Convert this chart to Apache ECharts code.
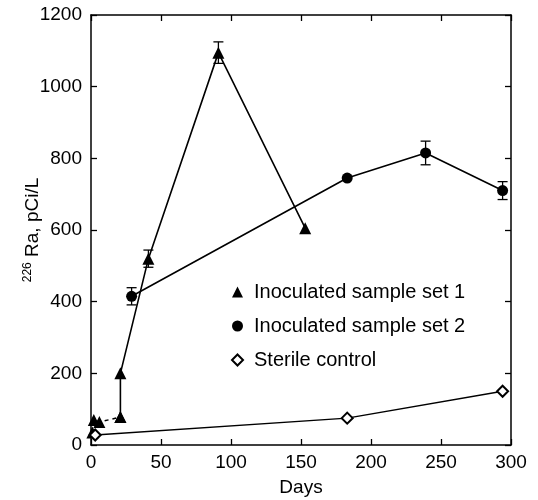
<!DOCTYPE html>
<html><head><meta charset="utf-8">
<script src="https://cdn.jsdelivr.net/npm/echarts@6/dist/echarts.min.js"></script>
<style>html,body{margin:0;padding:0;background:#fff}#c{width:538px;height:500px}</style>
</head><body><div id="c"></div>
<script>
// Data
const xTicks = [0, 50, 100, 150, 200, 250, 300];
const yTicks = [0, 200, 400, 600, 800, 1000, 1200];

const set1Days = [1, 2, 6, 21, 21, 41, 91, 153];
const set1Ra   = [35, 70, 64, 78, 200, 520, 1095, 605];
const set1Err  = [0, 0, 0, 0, 0, 24, 30, 0];

const set2Days = [29, 183, 239, 294];
const set2Ra   = [415, 745, 815, 710];
const set2Err  = [24, 0, 33, 25];

const ctrlDays = [3, 183, 294];
const ctrlRa   = [28, 75, 150];

const names = ['Inoculated sample set 1', 'Inoculated sample set 2', 'Sterile control'];

const pts = (xs, ys) => xs.map((x, i) => [x, ys[i]]);
const errPts = (xs, ys, es) => xs.map((x, i) => [x, ys[i], es[i]]).filter(d => d[2] > 0);

function errRender(params, api) {
  const x = api.value(0), y = api.value(1), e = api.value(2);
  const hi = api.coord([x, y + e]);
  const lo = api.coord([x, y - e]);
  const w = 5;
  const st = { stroke: '#000', lineWidth: 1.3 };
  return { type: 'group', children: [
    { type: 'line', shape: { x1: hi[0], y1: hi[1], x2: lo[0], y2: lo[1] }, style: st },
    { type: 'line', shape: { x1: hi[0] - w, y1: hi[1], x2: hi[0] + w, y2: hi[1] }, style: st },
    { type: 'line', shape: { x1: lo[0] - w, y1: lo[1], x2: lo[0] + w, y2: lo[1] }, style: st }
  ]};
}

const FONT = 'Liberation Sans, Arial, Helvetica, sans-serif';
const axisCommon = {
  axisLine: { show: true, onZero: false, lineStyle: { color: '#000', width: 1.5 } },
  axisTick: { show: true, inside: true, length: 6, lineStyle: { color: '#000', width: 1.3 } },
  splitLine: { show: false }
};

const chart = echarts.init(document.getElementById('c'));
chart.setOption({
  animation: false,
  backgroundColor: '#fff',
  textStyle: { fontFamily: FONT, color: '#000' },
  grid: { left: 91, right: 27, top: 15, bottom: 55, containLabel: false, outerBoundsMode: 'none' },
  legend: {
    orient: 'vertical', left: 226, top: 277, itemGap: 14,
    itemWidth: 11, itemHeight: 11,
    textStyle: { fontSize: 20, color: '#000', fontFamily: FONT, padding: [0, 0, 0, 6] },
    data: [
      { name: names[0], icon: 'triangle', itemStyle: { color: '#000' } },
      { name: names[1], icon: 'circle', itemStyle: { color: '#000' } },
      { name: names[2], icon: 'diamond', itemStyle: { color: '#fff', borderColor: '#000', borderWidth: 2 } }
    ]
  },
  xAxis: [
    Object.assign({}, axisCommon, {
      type: 'value', min: xTicks[0], max: xTicks[xTicks.length - 1], interval: 50,
      name: 'Days', nameLocation: 'middle', nameGap: 33, nameMoveOverlap: false,
      nameTextStyle: { fontSize: 19, color: '#000', fontFamily: FONT },
      axisLabel: { fontSize: 19, color: '#000', margin: 8, fontFamily: FONT, formatter: v => String(v) }
    }),
    Object.assign({}, axisCommon, {
      type: 'value', position: 'top', min: 0, max: 300, interval: 50,
      axisLabel: { show: false }
    })
  ],
  yAxis: [
    Object.assign({}, axisCommon, {
      type: 'value', min: yTicks[0], max: yTicks[yTicks.length - 1], interval: 200,
      name: '{sup|226}{m| Ra, pCi/L}', nameLocation: 'middle', nameGap: 47, nameMoveOverlap: false,
      nameTextStyle: {
        fontFamily: FONT, color: '#000',
        rich: {
          m: { fontSize: 19, fontFamily: FONT, color: '#000', lineHeight: 22 },
          sup: { fontSize: 12, fontFamily: FONT, color: '#000', verticalAlign: 'top', lineHeight: 22, padding: [0, 0, 10, 0] }
        }
      },
      axisLabel: { fontSize: 19, color: '#000', margin: 9, fontFamily: FONT, formatter: v => String(v) }
    }),
    Object.assign({}, axisCommon, {
      type: 'value', position: 'right', min: 0, max: 1200, interval: 200,
      axisLabel: { show: false }
    })
  ],
  series: [
    {
      name: names[0] + ' early', type: 'line', data: pts(set1Days.slice(0, 4), set1Ra.slice(0, 4)),
      symbol: 'triangle', symbolSize: 12, itemStyle: { color: '#000' },
      lineStyle: { color: '#000', width: 1.5, type: [4, 4] }, z: 3
    },
    {
      name: names[0], type: 'line', data: pts(set1Days.slice(3), set1Ra.slice(3)),
      symbol: 'triangle', symbolSize: 12, itemStyle: { color: '#000' },
      lineStyle: { color: '#000', width: 1.6 }, z: 3
    },
    {
      name: names[1], type: 'line', data: pts(set2Days, set2Ra),
      symbol: 'circle', symbolSize: 11, itemStyle: { color: '#000' },
      lineStyle: { color: '#000', width: 1.6 }, z: 3
    },
    {
      name: names[2], type: 'line', data: pts(ctrlDays, ctrlRa),
      symbol: 'diamond', symbolSize: 11,
      itemStyle: { color: '#fff', borderColor: '#000', borderWidth: 2 },
      lineStyle: { color: '#000', width: 1.5 }, z: 3
    },
    {
      type: 'custom', renderItem: errRender, data: errPts(set1Days, set1Ra, set1Err),
      encode: { x: 0, y: 1 }, z: 2, silent: true
    },
    {
      type: 'custom', renderItem: errRender, data: errPts(set2Days, set2Ra, set2Err),
      encode: { x: 0, y: 1 }, z: 2, silent: true
    }
  ]
});
</script>
</body></html>
